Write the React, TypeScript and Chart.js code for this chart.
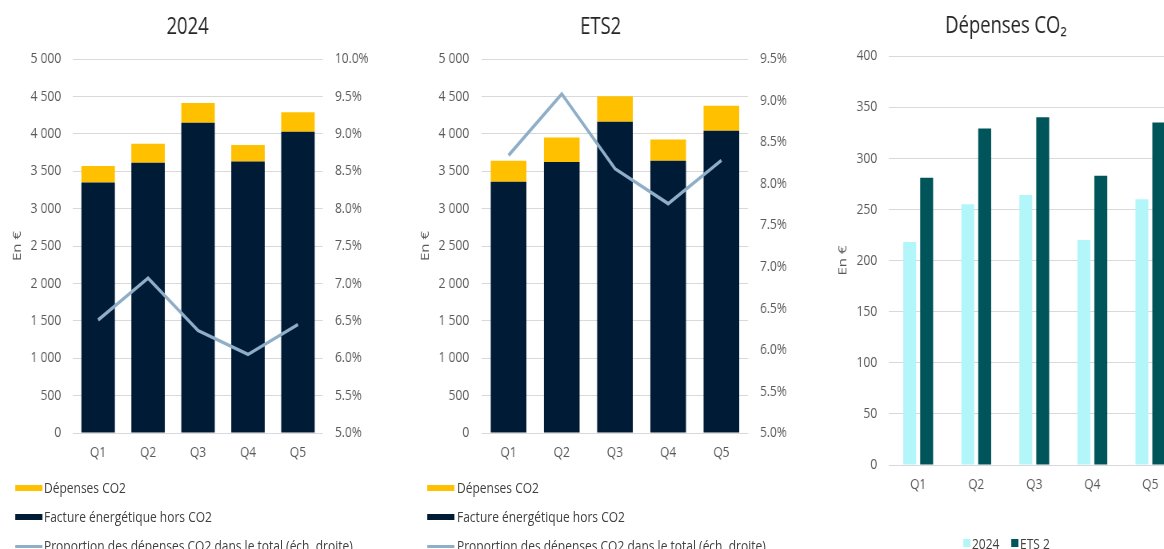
import React, { useEffect, useRef } from 'react';
import { Chart, registerables } from 'chart.js';

Chart.register(...registerables);

// ---------- data ----------
const quarters = ['Q1', 'Q2', 'Q3', 'Q4', 'Q5'];

// 2024 scenario
const bill2024 = [3350, 3613, 4148, 3631, 4028]; // Facture énergétique hors CO2
const co2_2024 = [218, 255, 264, 220, 260]; // Dépenses CO2
const share2024 = [6.51, 7.07, 6.37, 6.05, 6.45]; // % (right axis)

// ETS2 scenario
const billEts2 = [3359, 3622, 4161, 3640, 4041];
const co2Ets2 = [281, 329, 340, 283, 335];
const shareEts2 = [8.34, 9.08, 8.18, 7.76, 8.28];

// legend / titles
const labelCo2 = 'Dépenses CO2';
const labelBill = 'Facture énergétique hors CO2';
const labelShare = 'Proportion des dépenses CO2 dans le total (éch. droite)';
const label2024 = '2024';
const labelEts = 'ETS 2';

// ---------- styles ----------
const YELLOW = '#FFC000';
const NAVY = '#001B35';
const LINE = '#8FAFC9';
const CYAN = '#B3F6FA';
const TEAL = '#00555A';
const GRID = '#D9D9D9';
const TICK = '#595959';
const FONT = "'Open Sans', sans-serif";
const SQUEEZE = 0.8; // the whole figure is horizontally condensed
const X = (v: number) => v / SQUEEZE; // page x -> unscaled x

const fmtThousands = (v: number) =>
  String(v).replace(/\B(?=(\d{3})+(?!\d))/g, ' ');

const tickFont = { family: FONT, size: 15 };
const titleFont = { family: FONT, size: 23, weight: 'normal' as const };

function makeComboConfig(
  title: string,
  bill: number[],
  co2: number[],
  share: number[],
  rMax: number,
  padLeft: number,
  padRight: number,
  leftGap: number
): any {
  return {
    type: 'bar',
    data: {
      labels: quarters,
      datasets: [
        {
          type: 'line',
          label: labelShare,
          data: share,
          yAxisID: 'y1',
          borderColor: LINE,
          backgroundColor: LINE,
          borderWidth: 3.5,
          pointRadius: 0,
          tension: 0,
          order: 0,
        },
        {
          label: labelBill,
          data: bill,
          backgroundColor: NAVY,
          stack: 's',
          yAxisID: 'y',
          order: 1,
          barPercentage: 0.67,
          categoryPercentage: 1,
        },
        {
          label: labelCo2,
          data: co2,
          backgroundColor: YELLOW,
          stack: 's',
          yAxisID: 'y',
          order: 1,
          barPercentage: 0.67,
          categoryPercentage: 1,
        },
      ],
    },
    options: {
      responsive: false,
      animation: false,
      layout: { padding: { left: padLeft, right: padRight, top: 0, bottom: 0 } },
      plugins: {
        legend: { display: false },
        tooltip: { enabled: false },
        title: {
          display: true,
          text: title,
          color: '#262626',
          font: titleFont,
          padding: { top: 13.5, bottom: 17.9 },
        },
      },
      scales: {
        x: {
          stacked: true,
          grid: {
            display: true,
            drawOnChartArea: false,
            drawTicks: true,
            tickLength: 11,
            tickColor: 'rgba(0,0,0,0)',
          },
          border: { display: false },
          ticks: { color: TICK, font: tickFont, padding: 0 },
        },
        y: {
          stacked: true,
          min: 0,
          max: 5000,
          grid: { color: GRID, drawTicks: true, tickLength: leftGap, tickColor: 'rgba(0,0,0,0)' },
          border: { display: false },
          ticks: {
            stepSize: 500,
            color: TICK,
            font: tickFont,
            padding: 0,
            callback: (v: any) => fmtThousands(Number(v)),
          },
          title: {
            display: true,
            text: 'En €',
            color: TICK,
            font: tickFont,
            padding: { top: 4, bottom: 8 },
          },
        },
        y1: {
          position: 'right',
          min: 5,
          max: rMax,
          grid: {
            display: true,
            drawOnChartArea: false,
            drawTicks: true,
            tickLength: 15,
            tickColor: 'rgba(0,0,0,0)',
          },
          border: { display: false },
          ticks: {
            stepSize: 0.5,
            color: TICK,
            font: tickFont,
            padding: 0,
            callback: (v: any) => Number(v).toFixed(1) + '%',
          },
        },
      },
    },
  };
}

function makeCo2Config(): any {
  return {
    type: 'bar',
    data: {
      labels: quarters,
      datasets: [
        {
          label: label2024,
          data: co2_2024,
          backgroundColor: CYAN,
          barPercentage: 0.765,
          categoryPercentage: 0.583,
        },
        {
          label: labelEts,
          data: co2Ets2,
          backgroundColor: TEAL,
          barPercentage: 0.765,
          categoryPercentage: 0.583,
        },
      ],
    },
    options: {
      responsive: false,
      animation: false,
      layout: { padding: { left: 15.75, right: 13.75, top: 0, bottom: 0 } },
      plugins: {
        legend: { display: false },
        tooltip: { enabled: false },
        title: {
          display: true,
          text: 'Dépenses CO₂',
          color: '#262626',
          font: titleFont,
          padding: { top: 13, bottom: 15.4 },
        },
      },
      scales: {
        x: {
          grid: {
            display: true,
            drawOnChartArea: false,
            drawTicks: true,
            tickLength: 11,
            tickColor: 'rgba(0,0,0,0)',
          },
          border: { display: false },
          ticks: { color: TICK, font: tickFont, padding: 0 },
        },
        y: {
          min: 0,
          max: 400,
          grid: { color: GRID, drawTicks: true, tickLength: 15, tickColor: 'rgba(0,0,0,0)' },
          border: { display: false },
          ticks: {
            stepSize: 50,
            color: TICK,
            font: tickFont,
            padding: 0,
          },
          title: {
            display: true,
            text: 'En €',
            color: TICK,
            font: tickFont,
            padding: { top: 4, bottom: 8 },
          },
        },
      },
    },
  };
}

function ChartCanvas({
  config,
  left,
  top,
  width,
  height,
}: {
  config: () => any;
  left: number;
  top: number;
  width: number;
  height: number;
}) {
  const ref = useRef<HTMLCanvasElement | null>(null);
  useEffect(() => {
    if (!ref.current) return;
    const chart = new Chart(ref.current, config());
    return () => chart.destroy();
  }, []);
  return (
    <canvas
      ref={ref}
      width={width}
      height={height}
      style={{ position: 'absolute', left, top, width, height }}
    />
  );
}

const legendText: React.CSSProperties = {
  position: 'absolute',
  fontFamily: FONT,
  fontSize: 15,
  color: '#404040',
  whiteSpace: 'nowrap',
  lineHeight: '20px',
};

function ComboLegend({ x, textX }: { x: number; textX: number }) {
  const rows = [
    { label: labelCo2, color: YELLOW, kind: 'box', y: 488 },
    { label: labelBill, color: NAVY, kind: 'box', y: 517 },
    { label: labelShare, color: LINE, kind: 'line', y: 546 },
  ];
  return (
    <>
      {rows.map((r) => (
        <React.Fragment key={r.label}>
          <div
            style={{
              position: 'absolute',
              left: X(x),
              top: r.kind === 'box' ? r.y - 3 : r.y - 1.5,
              width: X(27),
              height: r.kind === 'box' ? 6 : 3,
              background: r.color,
            }}
          />
          <div style={{ ...legendText, left: X(textX), top: r.y - 11 }}>{r.label}</div>
        </React.Fragment>
      ))}
    </>
  );
}

function Co2Legend() {
  const y = 543;
  const items = [
    { label: label2024, color: CYAN, x: 963, tx: 972 },
    { label: labelEts, color: TEAL, x: 1011, tx: 1020 },
  ];
  return (
    <>
      {items.map((it) => (
        <React.Fragment key={it.label}>
          <div
            style={{
              position: 'absolute',
              left: X(it.x),
              top: y - 4,
              width: X(7),
              height: 8,
              background: it.color,
            }}
          />
          <div style={{ ...legendText, left: X(it.tx), top: y - 10 }}>{it.label}</div>
        </React.Fragment>
      ))}
    </>
  );
}

export default function App() {
  return (
    <div
      style={{
        position: 'absolute',
        left: 0,
        top: 0,
        width: 1164,
        height: 549,
        overflow: 'hidden',
        background: '#ffffff',
      }}
    >
      <div
        style={{
          position: 'absolute',
          left: 0,
          top: 0,
          width: X(1164) + 40,
          height: 549,
          transform: `scaleX(${SQUEEZE})`,
          transformOrigin: '0 0',
        }}
      >
        <ChartCanvas
          config={() =>
            makeComboConfig('2024', bill2024, co2_2024, share2024, 10, 8.25, 2.25, 15)
          }
          left={0}
          top={0}
          width={463}
          height={462}
        />
        <ChartCanvas
          config={() =>
            makeComboConfig('ETS2', billEts2, co2Ets2, shareEts2, 9.5, 18.25, 11.5, 16)
          }
          left={X(400)}
          top={0}
          width={495}
          height={462}
        />
        <ChartCanvas config={makeCo2Config} left={X(820)} top={0} width={463} height={494} />
        <ComboLegend x={15} textX={44} />
        <ComboLegend x={427} textX={457} />
        <Co2Legend />
      </div>
    </div>
  );
}
